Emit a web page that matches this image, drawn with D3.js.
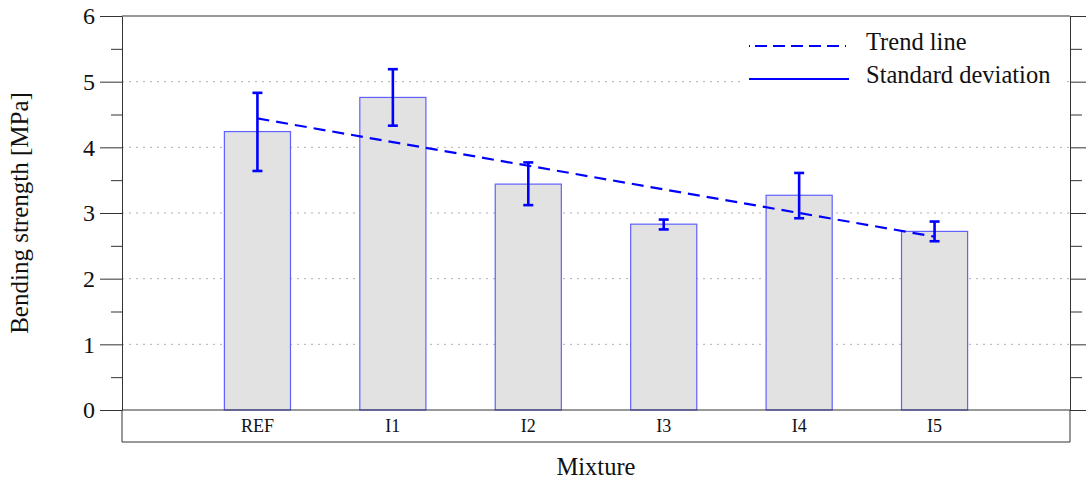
<!DOCTYPE html>
<html>
<head>
<meta charset="utf-8">
<script src="https://cdn.jsdelivr.net/npm/d3@7"></script>
<style>
  body { margin: 0; background: #fff; }
  svg text { font-family: "Liberation Serif", "Times New Roman", serif; fill: #111; }
</style>
</head>
<body>
<div id="graph"></div>
<script>
//Data
const mixtures = ["REF", "I1", "I2", "I3", "I4", "I5"];
const strength = [4.24, 4.76, 3.44, 2.83, 3.27, 2.72];
const sdLow = [3.64, 4.33, 3.12, 2.75, 2.92, 2.57];
const sdHigh = [4.83, 5.19, 3.77, 2.90, 3.61, 2.87];
const trend = [4.44, 4.08, 3.72, 3.36, 3.00, 2.64];
const yTicks = [0, 1, 2, 3, 4, 5, 6];
const yMinor = [0.5, 1.5, 2.5, 3.5, 4.5, 5.5];

//Display specifications
const W = 1086, H = 484;
const plot = {left: 122, right: 1070, top: 16, bottom: 410, box: 442};
const blue = "#0000ff";
const serif = "'Liberation Serif', 'Times New Roman', serif";

const svg = d3.select("#graph").append("svg")
    .attr("width", W).attr("height", H)
    .style("font-family", serif);

//Scales
const x = d3.scaleBand()
    .domain(mixtures)
    .range([plot.left, plot.right])
    .paddingInner(0.512)
    .paddingOuter(0.756);

const y = d3.scaleLinear()
    .domain([0, 6])
    .range([plot.bottom, plot.top]);

const cx = d => x(d) + x.bandwidth() / 2;

//Grid lines
svg.append("g")
    .selectAll("line")
    .data(yTicks.filter(t => t > 0 && t < 6))
    .enter().append("line")
    .attr("x1", plot.left).attr("x2", plot.right)
    .attr("y1", d => y(d)).attr("y2", d => y(d))
    .attr("stroke", "#b0b0b0")
    .attr("stroke-width", 1)
    .attr("stroke-dasharray", "2,5");

//Left axis
const left = svg.append("g")
    .attr("transform", "translate(" + plot.left + ",0)")
    .call(d3.axisLeft(y).tickValues(yTicks).tickFormat(d3.format("d"))
          .tickSize(22).tickPadding(5).tickSizeOuter(0));
left.attr("font-family", null).attr("font-size", null);
left.selectAll("text")
    .style("font-family", serif)
    .style("font-size", "24px")
    .attr("fill", "#111");
left.select(".domain").attr("stroke", "#333");
left.selectAll(".tick line").attr("stroke", "#333");

svg.append("g")
    .attr("transform", "translate(" + plot.left + ",0)")
    .call(d3.axisLeft(y).tickValues(yMinor).tickSize(11).tickFormat("").tickSizeOuter(0))
    .call(g => g.select(".domain").remove())
    .selectAll("line").attr("stroke", "#333");

//Right axis
const right = svg.append("g")
    .attr("transform", "translate(" + plot.right + ",0)")
    .call(d3.axisRight(y).tickValues(yTicks).tickSize(16).tickFormat("").tickSizeOuter(0));
right.select(".domain").attr("stroke", "#333");
right.selectAll("line").attr("stroke", "#333");

svg.append("g")
    .attr("transform", "translate(" + plot.right + ",0)")
    .call(d3.axisRight(y).tickValues(yMinor).tickSize(12).tickFormat("").tickSizeOuter(0))
    .call(g => g.select(".domain").remove())
    .selectAll("line").attr("stroke", "#333");

//Top border and category box
svg.append("line")
    .attr("x1", plot.left).attr("x2", plot.right)
    .attr("y1", y(6)).attr("y2", y(6))
    .attr("stroke", "#333");

svg.append("path")
    .attr("d", "M" + plot.left + "," + plot.bottom + "V" + plot.box + "H" + plot.right + "V" + plot.bottom)
    .attr("fill", "none")
    .attr("stroke", "#333");

//Bars
svg.append("g")
    .selectAll("rect")
    .data(mixtures)
    .enter().append("rect")
    .attr("x", d => x(d))
    .attr("y", (d, i) => y(strength[i]))
    .attr("width", x.bandwidth())
    .attr("height", (d, i) => y(0) - y(strength[i]))
    .attr("fill", "#e2e2e2")
    .attr("stroke", "#6060ff")
    .attr("stroke-width", 1.2);

//Zero line over the bars
svg.append("line")
    .attr("x1", plot.left).attr("x2", plot.right)
    .attr("y1", y(0)).attr("y2", y(0))
    .attr("stroke", "#333");

//Trend line
svg.append("path")
    .datum(mixtures)
    .attr("fill", "none")
    .attr("stroke", blue)
    .attr("stroke-width", 2.2)
    .attr("stroke-dasharray", "12,7")
    .attr("d", d3.line().x(d => cx(d)).y((d, i) => y(trend[i])));

//Standard deviation
const err = svg.append("g")
    .attr("stroke", blue)
    .attr("stroke-width", 2.6)
    .selectAll("g")
    .data(mixtures)
    .enter().append("g");

err.append("line")
    .attr("x1", d => cx(d)).attr("x2", d => cx(d))
    .attr("y1", (d, i) => y(sdLow[i])).attr("y2", (d, i) => y(sdHigh[i]));
err.append("line")
    .attr("x1", d => cx(d) - 5).attr("x2", d => cx(d) + 5)
    .attr("y1", (d, i) => y(sdHigh[i])).attr("y2", (d, i) => y(sdHigh[i]));
err.append("line")
    .attr("x1", d => cx(d) - 5).attr("x2", d => cx(d) + 5)
    .attr("y1", (d, i) => y(sdLow[i])).attr("y2", (d, i) => y(sdLow[i]));

//Category labels
svg.append("g")
    .selectAll("text")
    .data(mixtures)
    .enter().append("text")
    .attr("x", d => cx(d))
    .attr("y", (plot.bottom + plot.box) / 2)
    .attr("dy", "0.35em")
    .attr("text-anchor", "middle")
    .style("font-size", "18px")
    .text(d => d);

//Axis titles
svg.append("text")
    .attr("x", (plot.left + plot.right) / 2)
    .attr("y", 475)
    .attr("text-anchor", "middle")
    .style("font-size", "24.5px")
    .text("Mixture");

svg.append("text")
    .attr("transform", "rotate(-90)")
    .attr("x", -(plot.top + plot.bottom) / 2)
    .attr("y", 28)
    .attr("text-anchor", "middle")
    .style("font-size", "25px")
    .text("Bending strength [MPa]");

//Legend
const legend = svg.append("g");
legend.append("rect")
    .attr("x", 740).attr("y", 26).attr("width", 322).attr("height", 66)
    .attr("fill", "#fff");
legend.append("line")
    .attr("x1", 749).attr("x2", 849).attr("y1", 46).attr("y2", 46)
    .attr("stroke", blue).attr("stroke-width", 2)
    .attr("stroke-dasharray", "1,5,12,6,12,6,12,6,12,6,12,6");
legend.append("line")
    .attr("x1", 749).attr("x2", 849).attr("y1", 79).attr("y2", 79)
    .attr("stroke", blue).attr("stroke-width", 2);
legend.append("text")
    .attr("x", 866).attr("y", 50).style("font-size", "24.5px")
    .text("Trend line");
legend.append("text")
    .attr("x", 866).attr("y", 83).style("font-size", "24.5px")
    .text("Standard deviation");
</script>
</body>
</html>
